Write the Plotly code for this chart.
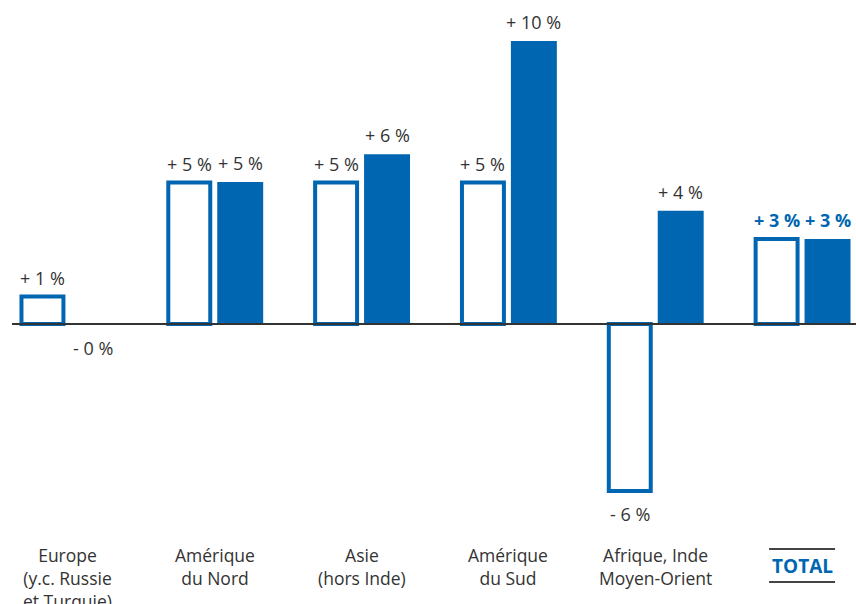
import plotly.graph_objects as go

categories = ["Europe<br>(y.c. Russie<br>et Turquie)", "Amérique<br>du Nord", "Asie<br>(hors Inde)",
              "Amérique<br>du Sud", "Afrique, Inde<br>Moyen-Orient", "TOTAL"]
series_outline = [0.97, 5.0, 5.0, 5.0, -5.9, 3.0]
series_filled = [-0.02, 5.02, 6.0, 10.0, 4.0, 3.0]

BLUE = "#0066b2"
TXT = "#333333"
FONT = "Open Sans, Noto Sans, sans-serif"

W, H = 856, 604
px_per_cat = 147.0
x_left = -68.0 / px_per_cat
x_right = 5 + (W - 802.0) / px_per_cat
zero_px = 324.0
px_per_unit = 28.3
y_top = zero_px / px_per_unit
y_bot = -(H - zero_px) / px_per_unit

xs = list(range(len(categories)))
w_out = 42 / px_per_cat
w_fill = 46 / px_per_cat
c_out = -25.5 / px_per_cat
c_fill = 25.5 / px_per_cat

fig = go.Figure()
fig.add_trace(go.Bar(x=xs, y=series_outline, width=w_out, offset=c_out - w_out / 2,
                     marker=dict(color="white", line=dict(color=BLUE, width=4)),
                     hoverinfo="skip"))
fig.add_trace(go.Bar(x=xs, y=series_filled, width=w_fill, offset=c_fill - w_fill / 2,
                     marker=dict(color=BLUE, line=dict(width=0)), hoverinfo="skip"))

def lab(v):
    sign = "+" if v >= 0 else "-"
    return f"{sign} {abs(round(v))} %"

annotations = []
for series, c in ((series_outline, c_out), (series_filled, c_fill)):
    for i, v in enumerate(series):
        total = categories[i] == "TOTAL"
        txt = lab(v)
        if total:
            txt = f"<b>{txt}</b>"
        annotations.append(dict(
            x=i + c, y=v, xref="x", yref="y", text=txt, showarrow=False,
            yanchor="middle", yshift=19 if v >= 0 else -23,
            font=dict(family=FONT, size=18, color=BLUE if total else TXT)))

for i, cat in enumerate(categories):
    if cat == "TOTAL":
        annotations.append(dict(x=i, y=1 - 566 / H, xref="x", yref="paper",
                                text="<b>TOTAL</b>", showarrow=False, yanchor="middle",
                                font=dict(family=FONT, size=19, color=BLUE)))
    else:
        annotations.append(dict(x=i, y=1 - 541 / H, xref="x", yref="paper",
                                text=cat, showarrow=False, yanchor="top",
                                font=dict(family=FONT, size=17.5, color=TXT)))

shapes = [dict(type="line", xref="paper", yref="y", x0=12 / W, x1=1, y0=0, y1=0,
               line=dict(color=TXT, width=2), layer="above")]
for yy in (549, 582):
    shapes.append(dict(type="line", xref="x", yref="paper", x0=5 - 33 / px_per_cat,
                       x1=5 + 33 / px_per_cat, y0=1 - yy / H, y1=1 - yy / H,
                       line=dict(color="#444444", width=2)))

fig.update_layout(
    width=W, height=H, autosize=False,
    margin=dict(l=0, r=0, t=0, b=0),
    paper_bgcolor="white", plot_bgcolor="white",
    showlegend=False,
    xaxis=dict(range=[x_left, x_right], visible=False, fixedrange=True),
    yaxis=dict(range=[y_bot, y_top], visible=False, fixedrange=True),
    annotations=annotations, shapes=shapes,
    barmode="overlay",
)
fig.write_html("out.html", config={"displayModeBar": False})
